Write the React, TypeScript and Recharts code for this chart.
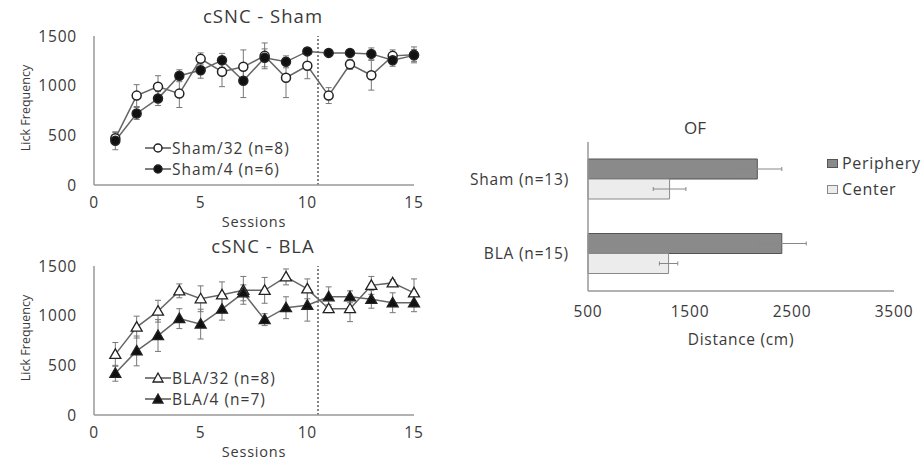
import { ComposedChart, Line, Bar, XAxis, YAxis, ErrorBar, ReferenceLine, Legend } from 'recharts';

const sessions = [1, 2, 3, 4, 5, 6, 7, 8, 9, 10, 11, 12, 13, 14, 15];

const sham32 = [470, 900, 990, 920, 1270, 1140, 1190, 1300, 1080, 1200, 900, 1215, 1105, 1300, 1310];
const sham32Err = [60, 110, 110, 140, 60, 150, 170, 130, 200, 130, 80, 50, 150, 60, 80];
const sham4 = [445, 720, 870, 1100, 1155, 1255, 1050, 1280, 1240, 1345, 1330, 1330, 1320, 1255, 1305];
const sham4Err = [90, 60, 70, 60, 80, 70, 170, 90, 60, 20, 20, 20, 60, 60, 60];

const bla32 = [610, 885, 1045, 1250, 1170, 1210, 1255, 1255, 1390, 1270, 1070, 1070, 1305, 1330, 1230];
const bla32Err = [120, 110, 110, 70, 130, 130, 140, 130, 80, 100, 40, 130, 90, 30, 140];
const bla4 = [420, 645, 800, 970, 915, 1065, 1230, 960, 1080, 1105, 1190, 1190, 1165, 1130, 1130];
const bla4Err = [80, 150, 160, 100, 150, 110, 80, 60, 110, 160, 100, 60, 90, 100, 90];

const groups = ['Sham (n=13)', 'BLA (n=15)'];
const periphery = [2160, 2400];
const peripheryErr = [240, 240];
const center = [1300, 1290];
const centerErr = [160, 90];

const lickTicks = [0, 500, 1000, 1500];
const sessionTicks = [0, 5, 10, 15];
const distTicks = [500, 1500, 2500, 3500];

const FONT = '"Open Sans", sans-serif';
const TEXT = '#3a3a3a';
const AXIS = '#999';

const tickStyle = (size: number) => ({ fill: TEXT, fontSize: size, fontFamily: FONT, fontWeight: 500, letterSpacing: 0.8 });

const shamData = sessions.map((s, i) => ({ s, a: sham32[i], aErr: sham32Err[i], b: sham4[i], bErr: sham4Err[i] }));
const blaData = sessions.map((s, i) => ({ s, a: bla32[i], aErr: bla32Err[i], b: bla4[i], bErr: bla4Err[i] }));
const ofData = groups.map((g, i) => ({ g, p: periphery[i], pErr: peripheryErr[i], c: center[i], cErr: centerErr[i] }));

const circleDot = (filled: boolean) => (props: any) => {
  const { cx, cy, index } = props;
  if (cx == null || cy == null) return null;
  return <circle key={index} cx={cx} cy={cy} r={4.5} fill={filled ? '#111' : '#fff'} stroke="#222" strokeWidth={1.5} />;
};

const triDot = (filled: boolean) => (props: any) => {
  const { cx, cy, index } = props;
  if (cx == null || cy == null) return null;
  return (
    <path key={index} d={`M${cx},${cy - 5.5} L${cx + 5.5},${cy + 4} L${cx - 5.5},${cy + 4} Z`}
      fill={filled ? '#111' : '#fff'} stroke="#222" strokeWidth={1.3} />
  );
};

function MarkerIcon({ shape, filled }: { shape: string; filled: boolean }) {
  const fill = filled ? '#111' : '#fff';
  return (
    <svg width={26} height={12} style={{ display: 'block' }}>
      <line x1={0} y1={6} x2={26} y2={6} stroke="#555" strokeWidth={1.5} />
      {shape === 'circle'
        ? <circle cx={13} cy={6} r={4} fill={fill} stroke="#222" strokeWidth={1.5} />
        : <path d="M13,1 L18,10 L8,10 Z" fill={fill} stroke="#222" strokeWidth={1.3} />}
    </svg>
  );
}

function LineLegend({ items }: { items: { label: string; shape: string; filled: boolean }[] }) {
  return (
    <div style={{ fontFamily: FONT, fontSize: 15.5, fontWeight: 500, letterSpacing: 1, color: TEXT }}>
      {items.map((it) => (
        <div key={it.label} style={{ display: 'flex', alignItems: 'center', height: 21, whiteSpace: 'nowrap' }}>
          <MarkerIcon shape={it.shape} filled={it.filled} />
          <span style={{ marginLeft: 1 }}>{it.label}</span>
        </div>
      ))}
    </div>
  );
}

function SessionPanel({ data, top, title, legend, shape }: any) {
  return (
    <div style={{ position: 'absolute', left: 0, top, width: 430, height: 230 }}>
      <div style={{ position: 'absolute', left: 263, top: 15, transform: 'translate(-50%,-50%)', fontFamily: FONT, fontSize: 18.5, fontWeight: 500, letterSpacing: 1, color: TEXT, whiteSpace: 'nowrap' }}>{title}</div>
      <div style={{ position: 'absolute', left: 25, top: 108, transform: 'translate(-50%,-50%) rotate(-90deg)', fontFamily: FONT, fontSize: 12.5, color: TEXT, whiteSpace: 'nowrap' }}>Lick Frequency</div>
      <ComposedChart width={430} height={230} data={data} margin={{ top: 36, right: 16, left: 0, bottom: 0 }}>
        <XAxis dataKey="s" type="number" domain={[0, 15]} ticks={sessionTicks} height={45}
          stroke={AXIS} strokeWidth={1.5} tickLine={false} tickSize={0} tickMargin={12}
          tick={tickStyle(15.5)}
          label={{ value: 'Sessions', position: 'insideBottom', offset: 3, fill: TEXT, fontSize: 14.5, fontFamily: FONT, fontWeight: 500, letterSpacing: 0.8 }} />
        <YAxis type="number" domain={[0, 1500]} ticks={lickTicks} width={94}
          stroke={AXIS} strokeWidth={1.5} tickLine={false} tickSize={0} tickMargin={17}
          tick={tickStyle(15.5)} />
        <ReferenceLine x={10.5} stroke="#333" strokeDasharray="2 2" strokeWidth={1.2} />
        <Line dataKey="a" stroke="#666" strokeWidth={1.5} isAnimationActive={false}
          dot={shape === 'circle' ? circleDot(false) : triDot(false)}>
          <ErrorBar dataKey="aErr" direction="y" width={3} stroke="#777" strokeWidth={1} />
        </Line>
        <Line dataKey="b" stroke="#666" strokeWidth={1.5} isAnimationActive={false}
          dot={shape === 'circle' ? circleDot(true) : triDot(true)}>
          <ErrorBar dataKey="bErr" direction="y" width={3} stroke="#777" strokeWidth={1} />
        </Line>
        <Legend layout="horizontal" align="center" verticalAlign="middle"
          wrapperStyle={{ left: 145, top: 137, width: 170, height: 44 }}
          content={() => <LineLegend items={legend} />} />
      </ComposedChart>
    </div>
  );
}

function OFLegend() {
  const items = [
    { label: 'Periphery', fill: '#8a8a8a', stroke: '#555' },
    { label: 'Center', fill: '#ececec', stroke: '#888' },
  ];
  return (
    <div style={{ fontFamily: FONT, fontSize: 16, fontWeight: 500, letterSpacing: 0.7, color: TEXT }}>
      {items.map((it) => (
        <div key={it.label} style={{ display: 'flex', alignItems: 'center', height: 26 }}>
          <div style={{ width: 9, height: 7, background: it.fill, border: `1px solid ${it.stroke}`, marginRight: 4 }} />
          <span>{it.label}</span>
        </div>
      ))}
    </div>
  );
}

export default function App() {
  return (
    <div style={{ position: 'absolute', left: 0, top: 0, width: 923, height: 461, background: '#fff', overflow: 'hidden' }}>
      <SessionPanel data={shamData} top={0} title="cSNC - Sham" shape="circle"
        legend={[
          { label: 'Sham/32 (n=8)', shape: 'circle', filled: false },
          { label: 'Sham/4 (n=6)', shape: 'circle', filled: true },
        ]} />
      <SessionPanel data={blaData} top={230} title="cSNC - BLA" shape="triangle"
        legend={[
          { label: 'BLA/32 (n=8)', shape: 'triangle', filled: false },
          { label: 'BLA/4 (n=7)', shape: 'triangle', filled: true },
        ]} />

      <div style={{ position: 'absolute', left: 458, top: 110, width: 465, height: 250 }}>
        <div style={{ position: 'absolute', left: 237, top: 17, transform: 'translate(-50%,-50%)', fontFamily: FONT, fontSize: 17, fontWeight: 500, color: TEXT }}>OF</div>
        <ComposedChart width={465} height={250} data={ofData} layout="vertical"
          margin={{ top: 32, right: 29, left: 0, bottom: 0 }} barSize={20} barGap={0}>
          <XAxis type="number" domain={[500, 3500]} ticks={distTicks} height={69}
            stroke={AXIS} strokeWidth={1.5} tickLine={false} tickSize={0} tickMargin={15}
            tick={tickStyle(15.5)}
            label={{ value: 'Distance (cm)', position: 'insideBottom', offset: 15, fill: TEXT, fontSize: 15.5, fontFamily: FONT, fontWeight: 500, letterSpacing: 0.7 }} />
          <YAxis type="category" dataKey="g" width={130}
            stroke={AXIS} strokeWidth={1.5} tickLine={false} tickSize={0} tickMargin={19}
            tick={tickStyle(15.5)} />
          <Bar dataKey="p" fill="#8a8a8a" stroke="#555" strokeWidth={1} isAnimationActive={false}>
            <ErrorBar dataKey="pErr" direction="x" width={2} stroke="#888" strokeWidth={1} />
          </Bar>
          <Bar dataKey="c" fill="#ececec" stroke="#888" strokeWidth={1} isAnimationActive={false}>
            <ErrorBar dataKey="cErr" direction="x" width={2} stroke="#888" strokeWidth={1} />
          </Bar>
        </ComposedChart>
        <div style={{ position: 'absolute', left: 369, top: 40 }}>
          <OFLegend />
        </div>
      </div>
    </div>
  );
}
